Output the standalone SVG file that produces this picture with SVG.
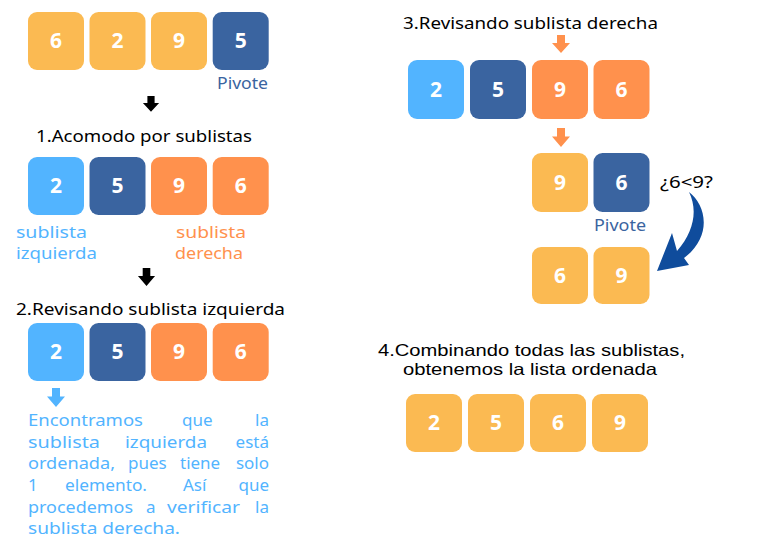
<svg xmlns="http://www.w3.org/2000/svg" width="771" height="556" viewBox="0 0 771 556">
<defs>
<style>
.y{fill:#FBBA52}
.lb{fill:#52B4FF}
.db{fill:#3A64A0}
.or{fill:#FF914D}
.n{font-family:"Open Sans","DejaVu Sans",sans-serif;font-weight:700;font-size:21px;fill:#fff;text-anchor:middle}
.t{font-family:"Noto Sans","DejaVu Sans",sans-serif;font-size:17px;fill:#000}
.t4{font-family:"Liberation Sans","DejaVu Sans",sans-serif;font-size:16.5px;fill:#000}
.p{font-family:"Noto Sans","DejaVu Sans",sans-serif;font-size:17px;fill:#52B4FF}
.e{text-anchor:end}
.pv{font-family:"Noto Sans","DejaVu Sans",sans-serif;font-size:16px;fill:#3A64A0}
.o{font-family:"Noto Sans","DejaVu Sans",sans-serif;font-size:17px;fill:#FF914D}
</style>
<path id="arr" d="M-4 0 H4 V8 H9 L0 18 L-9 8 H-4 Z"/>
</defs>

<g id="row1">
<rect class="y" x="28" y="12" width="56" height="58" rx="9"/><text class="n" x="56" y="48">6</text>
<rect class="y" x="89.5" y="12" width="56" height="58" rx="9"/><text class="n" x="117.5" y="48">2</text>
<rect class="y" x="151" y="12" width="56" height="58" rx="9"/><text class="n" x="179" y="48">9</text>
<rect class="db" x="212.7" y="12" width="56" height="58" rx="9"/><text class="n" x="240.7" y="48">5</text>
<text class="pv" x="217" y="89" textLength="51" lengthAdjust="spacingAndGlyphs">Pivote</text>
</g>

<g id="title1"><text class="t" x="36" y="142" textLength="216" lengthAdjust="spacingAndGlyphs">1.Acomodo por sublistas</text></g>

<g id="row2">
<rect class="lb" x="28" y="157" width="56" height="58" rx="9"/><text class="n" x="56" y="193">2</text>
<rect class="db" x="89.5" y="157" width="56" height="58" rx="9"/><text class="n" x="117.5" y="193">5</text>
<rect class="or" x="151" y="157" width="56" height="58" rx="9"/><text class="n" x="179" y="193">9</text>
<rect class="or" x="212.7" y="157" width="56" height="58" rx="9"/><text class="n" x="240.7" y="193">6</text>
<text class="p" x="16" y="238" textLength="71" lengthAdjust="spacingAndGlyphs">sublista</text>
<text class="p" x="16" y="259" textLength="81" lengthAdjust="spacingAndGlyphs">izquierda</text>
<text class="o" x="176" y="238" textLength="70" lengthAdjust="spacingAndGlyphs">sublista</text>
<text class="o" x="175" y="259" textLength="68" lengthAdjust="spacingAndGlyphs">derecha</text>
</g>

<g id="title2"><text class="t" x="16" y="315" textLength="269" lengthAdjust="spacingAndGlyphs">2.Revisando sublista izquierda</text></g>

<g id="row3">
<rect class="lb" x="28" y="323" width="56" height="58" rx="9"/><text class="n" x="56" y="359">2</text>
<rect class="db" x="89.5" y="323" width="56" height="58" rx="9"/><text class="n" x="117.5" y="359">5</text>
<rect class="or" x="151" y="323" width="56" height="58" rx="9"/><text class="n" x="179" y="359">9</text>
<rect class="or" x="212.7" y="323" width="56" height="58" rx="9"/><text class="n" x="240.7" y="359">6</text>
</g>

<g id="paragraph">
<text class="p" x="28" y="426" textLength="115" lengthAdjust="spacingAndGlyphs">Encontramos</text>
<text class="p" x="182" y="426">que</text>
<text class="p e" x="269" y="426">la</text>
<text class="p" x="28" y="447.7" textLength="72" lengthAdjust="spacingAndGlyphs">sublista</text>
<text class="p" x="125" y="447.7" textLength="82" lengthAdjust="spacingAndGlyphs">izquierda</text>
<text class="p e" x="269" y="447.7">está</text>
<text class="p" x="28" y="469.3" textLength="87" lengthAdjust="spacingAndGlyphs">ordenada,</text>
<text class="p" x="128" y="469.3">pues</text>
<text class="p" x="180" y="469.3">tiene</text>
<text class="p e" x="269" y="469.3">solo</text>
<text class="p" x="28" y="491">1</text>
<text class="p" x="65" y="491" textLength="82" lengthAdjust="spacingAndGlyphs">elemento.</text>
<text class="p" x="183" y="491">Así</text>
<text class="p e" x="269" y="491">que</text>
<text class="p" x="28" y="512.7" textLength="105" lengthAdjust="spacingAndGlyphs">procedemos</text>
<text class="p" x="146" y="512.7">a</text>
<text class="p" x="167" y="512.7" textLength="73" lengthAdjust="spacingAndGlyphs">verificar</text>
<text class="p e" x="269" y="512.7">la</text>
<text class="p" x="28" y="534.3" textLength="152" lengthAdjust="spacingAndGlyphs">sublista derecha.</text>
</g>

<g id="title3"><text class="t" x="403" y="29" textLength="255" lengthAdjust="spacingAndGlyphs">3.Revisando sublista derecha</text></g>

<g id="row4">
<rect class="lb" x="408" y="60" width="56" height="59" rx="9"/><text class="n" x="436" y="97">2</text>
<rect class="db" x="470" y="60" width="56" height="59" rx="9"/><text class="n" x="498" y="97">5</text>
<rect class="or" x="532" y="60" width="56" height="59" rx="9"/><text class="n" x="560" y="97">9</text>
<rect class="or" x="593.5" y="60" width="56" height="59" rx="9"/><text class="n" x="621.5" y="97">6</text>
</g>

<g id="row5">
<rect class="y" x="532" y="153" width="56" height="59" rx="9"/><text class="n" x="560" y="190">9</text>
<rect class="db" x="593.5" y="153" width="56" height="59" rx="9"/><text class="n" x="621.5" y="190">6</text>
<text class="pv" x="594" y="231" textLength="52" lengthAdjust="spacingAndGlyphs">Pivote</text>
<text class="t" x="660" y="188" textLength="53" lengthAdjust="spacingAndGlyphs">¿6&lt;9?</text>
</g>

<g id="row6">
<rect class="y" x="532" y="247" width="56" height="57" rx="9"/><text class="n" x="560" y="283">6</text>
<rect class="y" x="593.5" y="247" width="56" height="57" rx="9"/><text class="n" x="621.5" y="283">9</text>
</g>

<g id="title4">
<text class="t4" x="378" y="356" textLength="307" lengthAdjust="spacingAndGlyphs">4.Combinando todas las sublistas,</text>
<text class="t4" x="403" y="375" textLength="254" lengthAdjust="spacingAndGlyphs">obtenemos la lista ordenada</text>
</g>

<g id="row7">
<rect class="y" x="406" y="394" width="56" height="58" rx="9"/><text class="n" x="434" y="430">2</text>
<rect class="y" x="468" y="394" width="56" height="58" rx="9"/><text class="n" x="496" y="430">5</text>
<rect class="y" x="530" y="394" width="56" height="58" rx="9"/><text class="n" x="558" y="430">6</text>
<rect class="y" x="592" y="394" width="56" height="58" rx="9"/><text class="n" x="620" y="430">9</text>
</g>

<g id="connectors">
<use href="#arr" transform="translate(151 96) scale(0.9 0.88)" fill="#000"/>
<use href="#arr" transform="translate(146.5 268) scale(0.95 1)" fill="#000"/>
<use href="#arr" transform="translate(56 388) scale(1 1.05)" fill="#52B4FF"/>
<use href="#arr" transform="translate(561 35) scale(1 1)" fill="#FF914D"/>
<use href="#arr" transform="translate(561 128) scale(1 1.05)" fill="#FF914D"/>
<path d="M689 192 C706 205 713 236 684 258 L689 265 L657 271 L672 233 L677 251 C694 232 698 210 689 192 Z" fill="#0F4C9C"/>
</g>
</svg>
